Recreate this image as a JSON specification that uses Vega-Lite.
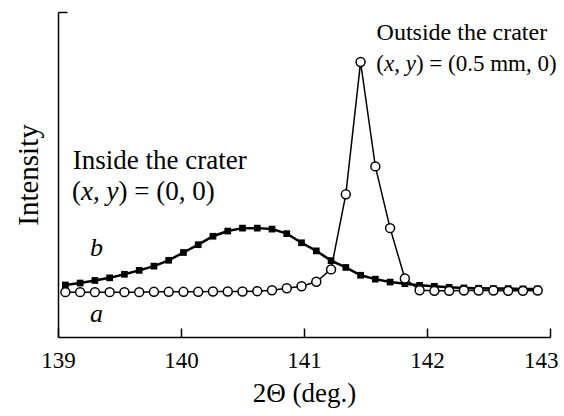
{
  "$schema": "https://vega.github.io/schema/vega-lite/v6.json",
  "width": 492,
  "height": 325,
  "autosize": "none",
  "padding": {"left": 58, "top": 12, "right": 14, "bottom": 79},
  "config": {
    "view": {"stroke": null},
    "font": "Liberation Serif",
    "text": {"font": "Liberation Serif", "color": "black"}
  },
  "datasets": {
    "spectra": [
      {"two_theta": 139.06, "intensity": 13.8, "series": "a"},
      {"two_theta": 139.18, "intensity": 13.8, "series": "a"},
      {"two_theta": 139.30, "intensity": 13.8, "series": "a"},
      {"two_theta": 139.42, "intensity": 13.8, "series": "a"},
      {"two_theta": 139.54, "intensity": 13.8, "series": "a"},
      {"two_theta": 139.66, "intensity": 13.8, "series": "a"},
      {"two_theta": 139.78, "intensity": 13.9, "series": "a"},
      {"two_theta": 139.90, "intensity": 13.9, "series": "a"},
      {"two_theta": 140.02, "intensity": 13.9, "series": "a"},
      {"two_theta": 140.14, "intensity": 13.9, "series": "a"},
      {"two_theta": 140.26, "intensity": 14.0, "series": "a"},
      {"two_theta": 140.38, "intensity": 14.0, "series": "a"},
      {"two_theta": 140.50, "intensity": 14.0, "series": "a"},
      {"two_theta": 140.62, "intensity": 14.1, "series": "a"},
      {"two_theta": 140.74, "intensity": 14.4, "series": "a"},
      {"two_theta": 140.86, "intensity": 15.0, "series": "a"},
      {"two_theta": 140.98, "intensity": 15.6, "series": "a"},
      {"two_theta": 141.10, "intensity": 17.0, "series": "a"},
      {"two_theta": 141.22, "intensity": 20.8, "series": "a"},
      {"two_theta": 141.34, "intensity": 43.9, "series": "a"},
      {"two_theta": 141.46, "intensity": 84.6, "series": "a"},
      {"two_theta": 141.58, "intensity": 52.5, "series": "a"},
      {"two_theta": 141.70, "intensity": 33.5, "series": "a"},
      {"two_theta": 141.82, "intensity": 18.0, "series": "a"},
      {"two_theta": 141.94, "intensity": 14.4, "series": "a"},
      {"two_theta": 142.06, "intensity": 14.2, "series": "a"},
      {"two_theta": 142.18, "intensity": 14.2, "series": "a"},
      {"two_theta": 142.30, "intensity": 14.3, "series": "a"},
      {"two_theta": 142.42, "intensity": 14.3, "series": "a"},
      {"two_theta": 142.54, "intensity": 14.3, "series": "a"},
      {"two_theta": 142.66, "intensity": 14.2, "series": "a"},
      {"two_theta": 142.78, "intensity": 14.2, "series": "a"},
      {"two_theta": 142.90, "intensity": 14.3, "series": "a"},
      {"two_theta": 139.06, "intensity": 16.0, "series": "b"},
      {"two_theta": 139.18, "intensity": 16.6, "series": "b"},
      {"two_theta": 139.30, "intensity": 17.4, "series": "b"},
      {"two_theta": 139.42, "intensity": 18.2, "series": "b"},
      {"two_theta": 139.54, "intensity": 19.3, "series": "b"},
      {"two_theta": 139.66, "intensity": 20.5, "series": "b"},
      {"two_theta": 139.78, "intensity": 21.8, "series": "b"},
      {"two_theta": 139.90, "intensity": 23.6, "series": "b"},
      {"two_theta": 140.02, "intensity": 26.0, "series": "b"},
      {"two_theta": 140.14, "intensity": 28.4, "series": "b"},
      {"two_theta": 140.26, "intensity": 31.0, "series": "b"},
      {"two_theta": 140.38, "intensity": 32.6, "series": "b"},
      {"two_theta": 140.50, "intensity": 33.5, "series": "b"},
      {"two_theta": 140.62, "intensity": 33.5, "series": "b"},
      {"two_theta": 140.74, "intensity": 33.2, "series": "b"},
      {"two_theta": 140.86, "intensity": 31.8, "series": "b"},
      {"two_theta": 140.98, "intensity": 29.0, "series": "b"},
      {"two_theta": 141.10, "intensity": 26.5, "series": "b"},
      {"two_theta": 141.22, "intensity": 23.5, "series": "b"},
      {"two_theta": 141.34, "intensity": 21.4, "series": "b"},
      {"two_theta": 141.46, "intensity": 19.0, "series": "b"},
      {"two_theta": 141.58, "intensity": 17.8, "series": "b"},
      {"two_theta": 141.70, "intensity": 16.9, "series": "b"},
      {"two_theta": 141.82, "intensity": 16.4, "series": "b"},
      {"two_theta": 141.94, "intensity": 15.9, "series": "b"},
      {"two_theta": 142.06, "intensity": 15.6, "series": "b"},
      {"two_theta": 142.18, "intensity": 15.3, "series": "b"},
      {"two_theta": 142.30, "intensity": 15.1, "series": "b"},
      {"two_theta": 142.42, "intensity": 15.0, "series": "b"},
      {"two_theta": 142.54, "intensity": 14.9, "series": "b"},
      {"two_theta": 142.66, "intensity": 14.9, "series": "b"},
      {"two_theta": 142.78, "intensity": 14.8, "series": "b"},
      {"two_theta": 142.90, "intensity": 14.8, "series": "b"}
    ],
    "notes": [
      {"two_theta": 139.12, "intensity": 51.8, "text": "Inside the crater", "italic": false, "group": "inside"},
      {"two_theta": 139.114, "intensity": 42.1, "text": "(", "italic": false, "group": "inside"},
      {"two_theta": 139.187, "intensity": 42.1, "text": "x, y", "italic": true, "group": "inside"},
      {"two_theta": 139.492, "intensity": 42.1, "text": ") = (0, 0)", "italic": false, "group": "inside"},
      {"two_theta": 141.59, "intensity": 91.3, "text": "Outside the crater", "italic": false, "group": "outside1"},
      {"two_theta": 141.588, "intensity": 82.0, "text": "(", "italic": false, "group": "outside2"},
      {"two_theta": 141.650, "intensity": 82.0, "text": "x, y", "italic": true, "group": "outside2"},
      {"two_theta": 141.910, "intensity": 82.0, "text": ") = (0.5 mm, 0)", "italic": false, "group": "outside2"},
      {"two_theta": 139.26, "intensity": 25.0, "text": "b", "italic": true, "group": "curve"},
      {"two_theta": 139.26, "intensity": 4.6, "text": "a", "italic": true, "group": "curve"}
    ]
  },
  "encoding": {
    "x": {
      "field": "two_theta",
      "type": "quantitative",
      "scale": {"domain": [139, 143], "nice": false, "zero": false},
      "axis": {
        "values": [139, 139.5, 140, 140.5, 141, 141.5, 142, 142.5, 143],
        "format": "d",
        "labelExpr": "datum.value % 1 === 0 ? format(datum.value, 'd') : ''",
        "tickSize": {"condition": {"test": "datum.value % 1 === 0", "value": -9}, "value": -6},
        "grid": false,
        "domainColor": "black",
        "domainWidth": 1.5,
        "tickColor": "black",
        "tickWidth": 1.5,
        "labelFont": "Liberation Serif",
        "labelFontSize": 23,
        "labelColor": "black",
        "labelPadding": 21,
        "labelFlush": false,
        "labelAlign": {"condition": {"test": "datum.value === 143", "value": "right"}, "value": "center"},
        "labelOffset": {"condition": {"test": "datum.value === 143", "value": 8}, "value": 0},
        "title": "2Θ (deg.)",
        "titleFont": "Liberation Serif",
        "titleFontSize": 27,
        "titleFontWeight": "normal",
        "titleColor": "black",
        "titlePadding": 8
      }
    },
    "y": {
      "field": "intensity",
      "type": "quantitative",
      "scale": {"domain": [0, 100], "nice": false, "zero": false},
      "axis": {
        "values": [100],
        "labels": false,
        "tickSize": -9,
        "tickColor": "black",
        "tickWidth": 1.5,
        "grid": false,
        "domainColor": "black",
        "domainWidth": 1.5,
        "title": "Intensity",
        "titleFont": "Liberation Serif",
        "titleFontSize": 29,
        "titleFontWeight": "normal",
        "titleColor": "black",
        "titlePadding": 14
      }
    }
  },
  "layer": [
    {
      "data": {"name": "spectra"},
      "transform": [{"filter": "datum.series === 'b'"}],
      "mark": {"type": "line", "color": "black", "strokeWidth": 2.5},
      "encoding": {}
    },
    {
      "data": {"name": "spectra"},
      "transform": [{"filter": "datum.series === 'b'"}],
      "mark": {"type": "point", "shape": "square", "filled": true, "color": "black", "size": 45, "opacity": 1},
      "encoding": {}
    },
    {
      "data": {"name": "spectra"},
      "transform": [{"filter": "datum.series === 'a'"}],
      "mark": {"type": "line", "color": "black", "strokeWidth": 1.5},
      "encoding": {}
    },
    {
      "data": {"name": "spectra"},
      "transform": [{"filter": "datum.series === 'a'"}],
      "mark": {"type": "point", "shape": "circle", "filled": true, "fill": "white", "stroke": "black", "strokeWidth": 1.5, "size": 80, "opacity": 1},
      "encoding": {}
    },
    {
      "data": {"name": "notes"},
      "transform": [{"filter": "datum.group === 'inside' && !datum.italic"}],
      "mark": {"type": "text", "align": "left", "baseline": "alphabetic", "fontSize": 27, "color": "black"},
      "encoding": {"text": {"field": "text"}}
    },
    {
      "data": {"name": "notes"},
      "transform": [{"filter": "datum.group === 'inside' && datum.italic"}],
      "mark": {"type": "text", "align": "left", "baseline": "alphabetic", "fontSize": 27, "fontStyle": "italic", "color": "black"},
      "encoding": {"text": {"field": "text"}}
    },
    {
      "data": {"name": "notes"},
      "transform": [{"filter": "datum.group === 'outside1'"}],
      "mark": {"type": "text", "align": "left", "baseline": "alphabetic", "fontSize": 24, "color": "black"},
      "encoding": {"text": {"field": "text"}}
    },
    {
      "data": {"name": "notes"},
      "transform": [{"filter": "datum.group === 'outside2' && !datum.italic"}],
      "mark": {"type": "text", "align": "left", "baseline": "alphabetic", "fontSize": 23, "color": "black"},
      "encoding": {"text": {"field": "text"}}
    },
    {
      "data": {"name": "notes"},
      "transform": [{"filter": "datum.group === 'outside2' && datum.italic"}],
      "mark": {"type": "text", "align": "left", "baseline": "alphabetic", "fontSize": 23, "fontStyle": "italic", "color": "black"},
      "encoding": {"text": {"field": "text"}}
    },
    {
      "data": {"name": "notes"},
      "transform": [{"filter": "datum.group === 'curve'"}],
      "mark": {"type": "text", "align": "left", "baseline": "alphabetic", "fontSize": 26, "fontStyle": "italic", "color": "black"},
      "encoding": {"text": {"field": "text"}}
    }
  ]
}
